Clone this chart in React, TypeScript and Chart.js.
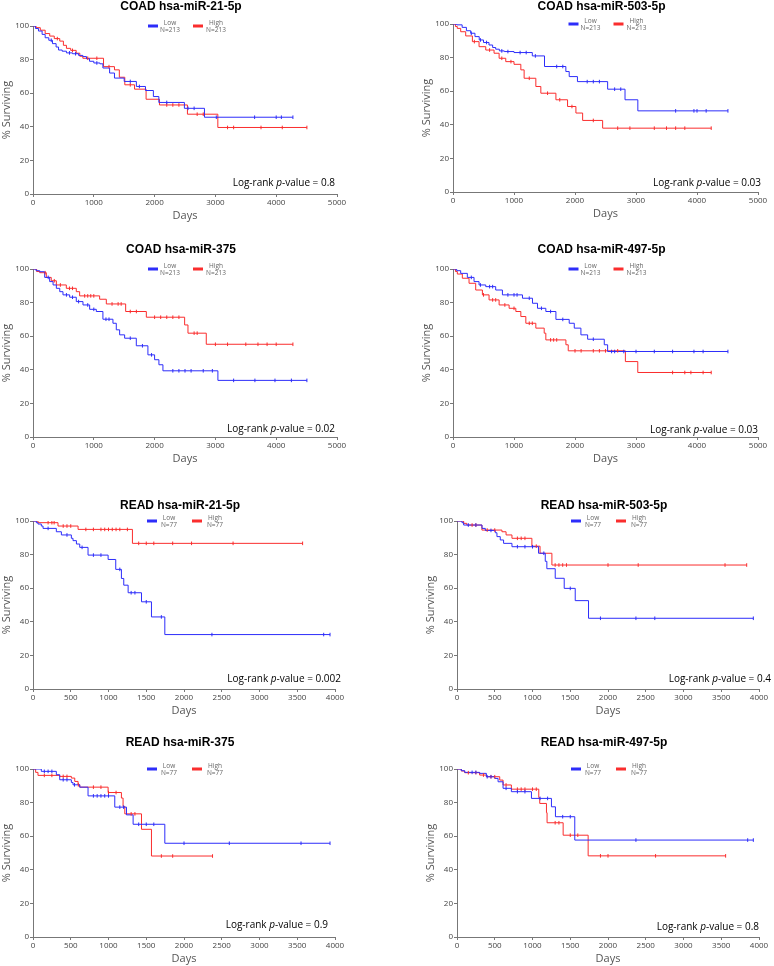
import React, { useEffect, useRef } from 'react';
import { Chart, registerables } from 'chart.js';

Chart.register(...registerables);

type Pt = [number, number];

// ---------- DATA (days, % surviving) ----------
const coad21Low: Pt[] = [[0,100],[40,98.5],[90,97],[150,95],[200,93],[260,91.5],[320,89.5],[380,87.5],[420,85.7],[480,85],[550,84],[650,83.5],[750,82.5],[820,81.8],[880,80.5],[930,79],[1000,78],[1100,77.5],[1150,75],[1260,72],[1340,69],[1500,67],[1700,64],[1850,61.6],[1980,58],[2070,54.5],[2490,51],[2820,45.7],[4275,45.7]];
const coad21LowCensor: number[] = [300,600,700,1050,1600,1750,2200,2550,2650,3015,3645,4000,4085,4275];
const coad21High: Pt[] = [[0,100],[50,99],[120,97.5],[200,95.5],[275,94],[350,92.5],[440,91],[500,88.5],[550,86.7],[620,85.5],[710,83.8],[770,82],[820,80.8],[1160,75.8],[1340,73.9],[1420,69.5],[1510,65],[1670,62.4],[1860,56.4],[2080,53],[2540,47.5],[3040,39.6],[4505,39.6]];
const coad21HighCensor: number[] = [400,650,900,1050,1250,1600,2200,2300,2400,2700,2800,3200,3300,3750,4100,4505];

const coad503Low: Pt[] = [[0,100],[60,99.5],[150,98],[220,96],[290,94.5],[360,92.5],[430,90.5],[500,89],[590,87.5],[650,86],[700,85],[760,84],[840,83.6],[1000,83],[1300,81],[1500,74.7],[1850,71.7],[1905,68.7],[2040,65.7],[2535,61.2],[2820,54.9],[3030,48.3],[4507,48.3]];
const coad503LowCensor: number[] = [300,450,550,800,900,1100,1200,1350,1700,1800,2200,2300,2400,2650,2750,3650,3950,4000,4150,4507];
const coad503High: Pt[] = [[0,100],[40,98.5],[70,97.4],[126,95.4],[208,92.9],[318,89.5],[427,86.5],[537,84.5],[673,82.6],[756,79.6],[865,77.6],[1000,76],[1112,72.7],[1166,67.7],[1358,62.8],[1440,58.8],[1687,54.9],[1878,50.9],[2015,47],[2125,42.6],[2453,38],[4233,38]];
const coad503HighCensor: number[] = [350,600,800,950,1250,1550,1750,1950,2300,2700,2900,3300,3500,3650,3800,4233];

const coad375Low: Pt[] = [[0,100],[50,99],[110,98.4],[192,95],[274,92.5],[330,90.5],[384,88.5],[440,86.5],[493,84.6],[603,83.2],[712,80.6],[822,78.6],[932,76],[1041,74.7],[1150,70.1],[1315,67.7],[1370,63.8],[1425,60.8],[1507,58.8],[1699,54.3],[1890,48.9],[2000,46],[2071,43],[2137,39.4],[3041,33.7],[4505,33.7]];
const coad375LowCensor: number[] = [250,550,650,750,900,1000,1200,1250,1600,1800,1950,2300,2400,2500,2600,2800,2950,3300,3650,3980,4250,4505];
const coad375High: Pt[] = [[0,100],[60,98.5],[110,97.8],[219,95],[300,93],[384,90.5],[548,88.5],[712,86.5],[767,84],[1096,82],[1206,79.2],[1524,74.7],[1864,71.3],[2494,66.7],[2549,61.8],[2850,55.2],[4275,55.2]];
const coad375HighCensor: number[] = [200,350,450,600,650,850,900,950,1000,1300,1400,1450,1600,1700,2000,2100,2200,2300,2400,2650,2700,3000,3200,3500,3700,3850,4000,4275];

const coad497Low: Pt[] = [[0,100],[60,99],[126,97.4],[235,95],[345,92.5],[427,90.5],[537,89.5],[700,87.5],[810,84.6],[1139,82.6],[1303,79.6],[1385,76.6],[1522,74.7],[1687,70],[1905,67.7],[1988,64.8],[2097,60.8],[2207,58.2],[2480,54.9],[2535,50.9],[4507,50.9]];
const coad497LowCensor: number[] = [300,450,600,650,900,1000,1050,1250,1450,1600,1800,2300,2600,2650,2800,3000,3300,3600,3950,4100,4507];
const coad497High: Pt[] = [[0,100],[40,98.5],[71,97],[153,94.5],[263,91.5],[372,87.5],[482,84.6],[591,81.6],[756,78.6],[920,76.6],[1030,74.7],[1112,71.7],[1194,67.7],[1358,64.8],[1495,61.8],[1522,57.8],[1851,54.9],[1889,51.3],[2826,44.9],[3029,38.4],[4233,38.4]];
const coad497HighCensor: number[] = [500,650,700,850,1000,1250,1300,1600,1650,1700,2000,2100,2300,2400,2500,2700,3600,3800,3900,4100,4233];

const read21Low: Pt[] = [[0,100],[44,99],[66,98.2],[110,97],[133,95.6],[309,93.6],[376,91.7],[508,89.7],[530,88.3],[575,86.3],[619,84.3],[729,79.7],[995,77.1],[1096,71.2],[1171,65.8],[1202,61.8],[1260,57.3],[1437,51.9],[1569,42.9],[1746,32.4],[3934,32.4]];
const read21LowCensor: number[] = [200,450,650,800,900,1150,1300,1350,1500,1700,2370,3850,3934];
const read21High: Pt[] = [[0,100],[66,99],[331,97],[597,95],[1317,86.7],[3571,86.7]];
const read21HighCensor: number[] = [200,250,280,400,450,500,700,800,900,950,1000,1050,1100,1150,1250,1400,1500,1600,1850,2100,2650,3571];

const read503Low: Pt[] = [[0,100],[66,99],[88,97.6],[331,95.6],[375,94.4],[507,93],[529,90.7],[573,88.7],[617,86.7],[728,84.7],[1080,80.8],[1169,76],[1190,71.6],[1301,65.9],[1420,59.9],[1566,52.6],[1742,42.1],[3925,42.1]];
const read503LowCensor: number[] = [150,250,450,800,900,1000,1150,1500,1900,2370,2620,3925];
const read503High: Pt[] = [[0,100],[88,98.6],[130,97.6],[330,94.6],[595,93.6],[650,91.7],[728,89.7],[992,85],[1100,80.8],[1257,73.8],[3837,73.8]];
const read503HighCensor: number[] = [200,250,400,500,800,850,900,1050,1300,1350,1400,1450,2000,2400,3550,3837];

const read375Low: Pt[] = [[0,100],[110,98.6],[309,96.6],[354,93.6],[508,92],[530,90.6],[619,89.2],[729,84],[1083,77.3],[1238,72.7],[1326,67.1],[1746,55.8],[3934,55.8]];
const read375LowCensor: number[] = [150,200,250,400,450,550,800,850,900,950,1000,1150,1200,1400,1500,1600,2000,2600,3550,3934];
const read375High: Pt[] = [[0,100],[35,98],[66,96.2],[354,95.6],[508,94.6],[553,92.6],[597,90.6],[619,89.2],[995,86],[1171,82.7],[1193,77.7],[1216,73.3],[1437,64.1],[1569,48.2],[2378,48.2]];
const read375HighCensor: number[] = [150,250,400,450,600,800,900,1000,1100,1300,1350,1700,1850,2378];

const read497Low: Pt[] = [[0,100],[57,99],[102,98],[300,97.4],[389,95.4],[500,94.4],[544,92.4],[610,88.5],[720,86.5],[986,82.5],[1251,77.5],[1304,71.6],[1560,57.7],[3925,57.7]];
const read497LowCensor: number[] = [200,250,400,450,650,800,900,1100,1200,1400,1500,2370,3850,3925];
const read497High: Pt[] = [[0,100],[57,98.8],[102,97.8],[300,96.4],[389,95.4],[566,93.4],[610,90.5],[720,88],[1083,83],[1096,79.5],[1185,74],[1193,68],[1406,60.6],[1737,48.3],[3558,48.3]];
const read497HighCensor: number[] = [150,250,350,450,500,650,800,850,900,1000,1050,1300,1350,1500,1600,1900,2000,2630,3558];

const TITLES: string[] = ['COAD hsa-miR-21-5p','COAD hsa-miR-503-5p','COAD hsa-miR-375','COAD hsa-miR-497-5p','READ hsa-miR-21-5p','READ hsa-miR-503-5p','READ hsa-miR-375','READ hsa-miR-497-5p'];
const P_VALUES: string[] = ['0.8','0.03','0.02','0.03','0.002','0.4','0.9','0.8'];
const N_COUNTS: number[] = [213,213,213,213,77,77,77,77];
const X_MAX: number[] = [5000,5000,5000,5000,4000,4000,4000,4000];
const X_STEP: number[] = [1000,1000,1000,1000,500,500,500,500];
const Y_TICKS: number[] = [0,20,40,60,80,100];
const LEGEND_LABELS: string[] = ['Low','High'];

const LOW_CURVES: Pt[][] = [coad21Low, coad503Low, coad375Low, coad497Low, read21Low, read503Low, read375Low, read497Low];
const LOW_CENSORS: number[][] = [coad21LowCensor, coad503LowCensor, coad375LowCensor, coad497LowCensor, read21LowCensor, read503LowCensor, read375LowCensor, read497LowCensor];
const HIGH_CURVES: Pt[][] = [coad21High, coad503High, coad375High, coad497High, read21High, read503High, read375High, read497High];
const HIGH_CENSORS: number[][] = [coad21HighCensor, coad503HighCensor, coad375HighCensor, coad497HighCensor, read21HighCensor, read503HighCensor, read375HighCensor, read497HighCensor];

// ---------- LAYOUT (page px) ----------
type Lay = { l: number; t: number; r: number; b: number; titleDy: number; pDx: number; pDy: number; colLeft: number; colW: number };
const LAYOUT: Lay[] = [
  { l: 33, t: 26, r: 337, b: 194, titleDy: -19, pDx: -2, pDy: -11, colLeft: 0, colW: 390 },
  { l: 453, t: 24, r: 758, b: 192, titleDy: -17, pDx: 3, pDy: -9, colLeft: 390, colW: 384 },
  { l: 33, t: 269, r: 337, b: 437, titleDy: -19, pDx: -2, pDy: -8, colLeft: 0, colW: 390 },
  { l: 453, t: 269, r: 758, b: 437, titleDy: -19, pDx: 0, pDy: -7, colLeft: 390, colW: 384 },
  { l: 33, t: 521, r: 335, b: 689, titleDy: -15, pDx: 6, pDy: -10, colLeft: 0, colW: 390 },
  { l: 457, t: 521, r: 759, b: 689, titleDy: -15, pDx: 12, pDy: -10, colLeft: 390, colW: 384 },
  { l: 33, t: 769, r: 335, b: 937, titleDy: -26, pDx: -7, pDy: -12, colLeft: 0, colW: 390 },
  { l: 457, t: 769, r: 759, b: 937, titleDy: -26, pDx: 0, pDy: -10, colLeft: 390, colW: 384 },
];

const BLUE = 'rgb(45,45,250)';
const RED = 'rgb(250,45,45)';
const Y_AXIS_W = 33;
const X_AXIS_H = 28;
const PAD_TOP = 34;
const PAD_BOTTOM = 2;

function stepValue(curve: Pt[], t: number): number {
  let v = curve[0][1];
  for (const [x, y] of curve) {
    if (x <= t) v = y; else break;
  }
  return v;
}

const overlayPlugin = {
  id: 'kmOverlay',
  afterDraw(chart: any, _args: any, opts: any) {
    const { ctx, chartArea: a } = chart;
    const cx = (a.left + a.right) / 2;
    ctx.save();
    // title
    ctx.font = 'bold 12px "Liberation Sans", Arial, sans-serif';
    ctx.fillStyle = '#000';
    ctx.textAlign = 'center';
    ctx.textBaseline = 'middle';
    ctx.fillText(opts.title, cx - 4, a.top + opts.titleDy);
    // legend
    const items = [
      { color: BLUE, sw: -37, tx: -15, label: opts.labels[0] },
      { color: RED, sw: 8, tx: 31, label: opts.labels[1] },
    ];
    for (const it of items) {
      ctx.fillStyle = it.color;
      ctx.fillRect(cx + it.sw, a.top - 1.5, 10, 3);
      ctx.fillStyle = '#666';
      ctx.font = '6.5px "Open Sans", sans-serif';
      ctx.fillText(it.label, cx + it.tx, a.top - 3);
      ctx.fillText('N=' + opts.n, cx + it.tx, a.top + 4);
    }
    // log-rank annotation
    const normal = '10px "Open Sans", sans-serif';
    const italic = 'italic 10px "Open Sans", sans-serif';
    const s1 = 'Log-rank ';
    const s2 = 'p';
    const s3 = '-value = ' + opts.p;
    ctx.font = normal;
    const w1 = ctx.measureText(s1).width;
    const w3 = ctx.measureText(s3).width;
    ctx.font = italic;
    const w2 = ctx.measureText(s2).width;
    const right = a.right + opts.pDx;
    let x = right - (w1 + w2 + w3);
    const y = a.bottom + opts.pDy;
    ctx.textAlign = 'left';
    ctx.fillStyle = '#000';
    ctx.font = normal; ctx.fillText(s1, x, y); x += w1;
    ctx.font = italic; ctx.fillText(s2, x, y); x += w2;
    ctx.font = normal; ctx.fillText(s3, x, y);
    ctx.restore();
  },
};

function KMPanel({ idx }: { idx: number }) {
  const ref = useRef<HTMLCanvasElement | null>(null);
  const lay = LAYOUT[idx];
  const canvasTop = lay.t - PAD_TOP;
  const canvasH = (lay.b - lay.t) + PAD_TOP + X_AXIS_H + PAD_BOTTOM;
  const padLeft = lay.l - lay.colLeft - Y_AXIS_W;
  const padRight = lay.colLeft + lay.colW - lay.r;

  useEffect(() => {
    if (!ref.current) return;
    const low = LOW_CURVES[idx];
    const high = HIGH_CURVES[idx];
    const mk = (c: Pt[]) => c.map(([x, y]) => ({ x, y }));
    const cens = (c: Pt[], ts: number[]) => ts.map((t) => ({ x: t, y: stepValue(c, t) }));
    const lineDs = (c: Pt[], color: string, label: string) => ({
      label, data: mk(c), borderColor: color, backgroundColor: color, borderWidth: 1,
      pointRadius: 0, stepped: true, fill: false, order: 2,
    });
    const censDs = (c: Pt[], ts: number[], color: string, label: string) => ({
      label, data: cens(c, ts), showLine: false, pointStyle: 'line', pointRadius: 1.8,
      pointRotation: 90, pointBorderColor: color, pointBackgroundColor: color, pointBorderWidth: 1,
      borderColor: color, order: 1,
    });
    const chart = new Chart(ref.current, {
      type: 'line',
      data: {
        datasets: [
          lineDs(low, BLUE, LEGEND_LABELS[0]),
          lineDs(high, RED, LEGEND_LABELS[1]),
          censDs(low, LOW_CENSORS[idx], BLUE, LEGEND_LABELS[0] + ' censored'),
          censDs(high, HIGH_CENSORS[idx], RED, LEGEND_LABELS[1] + ' censored'),
        ] as any,
      },
      options: {
        animation: false,
        responsive: false,
        events: [],
        layout: { padding: { top: PAD_TOP, bottom: PAD_BOTTOM, left: padLeft, right: padRight } },
        plugins: {
          legend: { display: false },
          title: { display: false },
          tooltip: { enabled: false },
          kmOverlay: {
            title: TITLES[idx], p: P_VALUES[idx], n: N_COUNTS[idx], labels: LEGEND_LABELS,
            titleDy: lay.titleDy, pDx: lay.pDx, pDy: lay.pDy,
          },
        } as any,
        scales: {
          x: {
            type: 'linear', min: 0, max: X_MAX[idx],
            afterFit: (s: any) => { s.height = X_AXIS_H; },
            ticks: {
              stepSize: X_STEP[idx], padding: 1, color: '#444', maxRotation: 0, autoSkip: false,
              font: { family: '"Open Sans", sans-serif', size: 8 },
              callback: (v: any) => String(v),
            },
            grid: { drawOnChartArea: false, drawTicks: true, tickLength: 3, color: '#777' },
            border: { display: true, color: '#777', width: 1 },
            title: { display: true, text: 'Days', color: '#555', padding: 0, font: { family: '"Open Sans", sans-serif', size: 11 } },
          },
          y: {
            type: 'linear', min: Y_TICKS[0], max: Y_TICKS[Y_TICKS.length - 1],
            afterFit: (s: any) => { s.width = Y_AXIS_W; },
            afterBuildTicks: (s: any) => { s.ticks = Y_TICKS.map((v) => ({ value: v })); },
            ticks: { padding: 1, color: '#444', font: { family: '"Open Sans", sans-serif', size: 8 }, callback: (v: any) => String(v) },
            grid: { drawOnChartArea: false, drawTicks: true, tickLength: 3, color: '#777' },
            border: { display: true, color: '#777', width: 1 },
            title: { display: true, text: '% Surviving', color: '#555', padding: 0, font: { family: '"Open Sans", sans-serif', size: 11 } },
          },
        },
      },
      plugins: [overlayPlugin],
    } as any);
    return () => chart.destroy();
  }, [idx]);

  return (
    <canvas
      ref={ref}
      width={lay.colW}
      height={canvasH}
      style={{ position: 'absolute', left: lay.colLeft, top: canvasTop, width: lay.colW, height: canvasH }}
    />
  );
}

export default function App() {
  return (
    <div style={{ position: 'absolute', left: 0, top: 0, width: 774, height: 966, overflow: 'hidden', background: '#fff' }}>
      {TITLES.map((_, i) => <KMPanel key={i} idx={i} />)}
    </div>
  );
}
